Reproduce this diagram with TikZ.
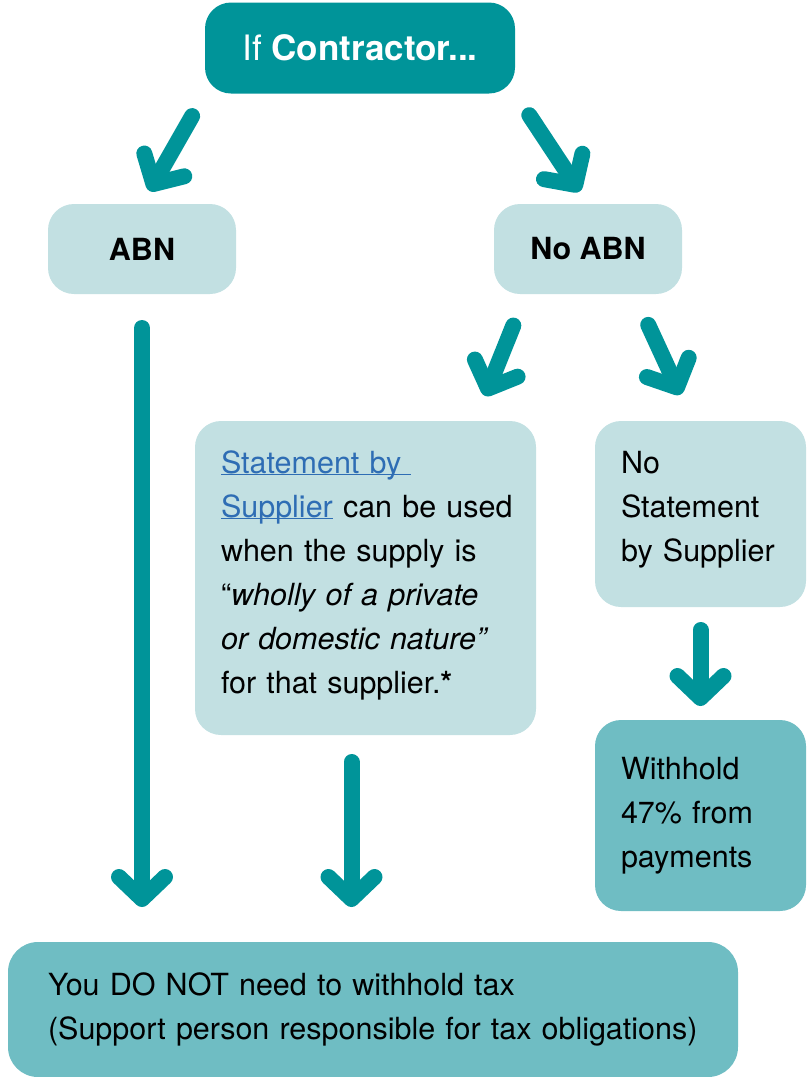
\documentclass[tikz,border=0pt]{standalone}
\usepackage{fontspec}
\setmainfont{TeX Gyre Heros}
\usepackage{tikz}
\usetikzlibrary{positioning,arrows.meta,calc}

\definecolor{tealdark}{RGB}{0,148,153}
\definecolor{boxlight}{RGB}{194,224,226}
\definecolor{boxmid}{RGB}{111,189,195}
\definecolor{linkblue}{RGB}{46,109,180}
\newcommand\linktext[1]{\textcolor{linkblue}{\underline{\smash{#1}}}}

\begin{document}
\begin{tikzpicture}[x=1pt, y=-1pt,
    every node/.style={font=\fontsize{30.5}{44}\selectfont, outer sep=0pt},
    box/.style={fill=boxlight, rounded corners=26pt, inner sep=0pt},
    boxtext/.style={box, align=left, inner xsep=26pt},
    arr/.style={draw=tealdark, line width=16pt, line cap=round,
      -{Straight Barb[round, length=22pt, width=46pt]}}]
  \useasboundingbox (0,0) rectangle (811,1077);

  %----- 方塊 -----
  \node[box, fill=tealdark, text=white, minimum width=310pt, minimum height=91pt,
    font=\fontsize{35}{40}\selectfont] (top) at (360,48) {If \textbf{Contractor...}};

  \node[box, minimum width=188pt, minimum height=90pt] (abn) at (142,249) {\textbf{ABN}};
  \node[box, minimum width=188pt, minimum height=90pt] (nabn) at (588,249) {\textbf{No ABN}};

  \node[boxtext, minimum width=341pt, minimum height=314pt, text width=289pt] (stmt) at (365.5,578)
    {\mbox{\rule{0pt}{17pt}\linktext{Statement by\ }}\\
     \mbox{\linktext{Supplier} can be used}\\
     \mbox{when the supply is}\\
     \mbox{“\textit{wholly of a private}}\\
     \mbox{\textit{or domestic nature”}}\\
     \mbox{for that supplier.\textbf{*}}};

  \node[boxtext, minimum width=211pt, minimum height=186pt, text width=159pt] (nstmt) at (700.5,514)
    {No\\ Statement\\ \mbox{by Supplier\rule[-16pt]{0pt}{1pt}}};

  \node[boxtext, fill=boxmid, minimum width=211pt, minimum height=191pt, text width=159pt] (wh) at (700.5,815.5)
    {Withhold\\ \mbox{47\% from}\\ payments};

  \node[boxtext, fill=boxmid, rounded corners=30pt, minimum width=730pt, minimum height=135pt,
    inner xsep=40pt, text width=650pt] (bot) at (373,1009.5)
    {\mbox{You DO NOT need to withhold tax}\\
     \mbox{(Support person responsible for tax obligations)}};

  %----- 箭頭 -----
  \draw[arr, shorten <=26pt, shorten >=15pt] (top.south west) -- (abn.north);
  \draw[arr, shorten <=26pt, shorten >=15pt] (top.south east) -- (nabn.north);
  \draw[arr, shorten <=34pt, shorten >=35pt] (abn.south) -- (abn.south |- bot.north);
  \draw[arr, shorten <=34pt, shorten >=27pt] ($(nabn.south west)+(32,0)$) -- ($(stmt.north east)+(-61,0)$);
  \draw[arr, shorten <=34pt, shorten >=29pt] ($(nabn.south)+(46,0)$) -- ($(nstmt.north)+(-8,0)$);
  \draw[arr, shorten <=27pt, shorten >=35pt] ($(stmt.south)+(-14,0)$) coordinate (s1) -- (s1 |- bot.north);
  \draw[arr, shorten <=23pt, shorten >=14pt] (nstmt.south) -- (wh.north);
\end{tikzpicture}
\end{document}
